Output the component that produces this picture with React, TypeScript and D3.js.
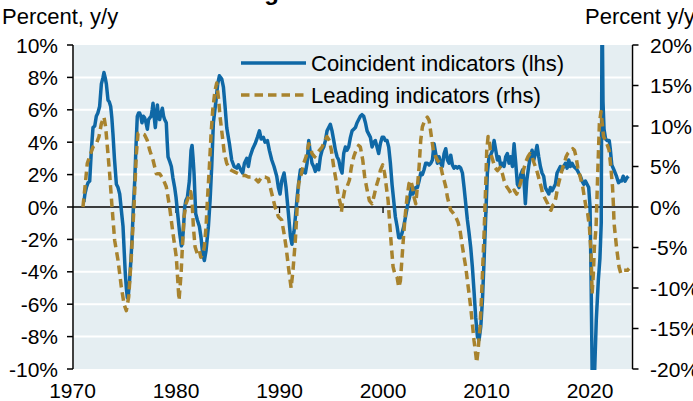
import React from "react";
import * as d3 from "d3";

// Coincident indicators (lhs), y/y %
const coincidentYears = [
  1971.1, 1971.2, 1971.34, 1971.5, 1971.66, 1971.82, 1971.98, 1972.15, 1972.3, 1972.45, 1972.62, 1972.79, 1972.95,
  1973.04, 1973.15, 1973.27, 1973.43, 1973.55, 1973.69, 1973.8, 1973.91, 1974.05, 1974.24, 1974.4, 1974.56, 1974.72,
  1974.88, 1975.0, 1975.1, 1975.2, 1975.3, 1975.4, 1975.52, 1975.65, 1975.75, 1975.88, 1976.01, 1976.15, 1976.26,
  1976.38, 1976.49, 1976.6, 1976.71, 1976.85, 1976.97, 1977.1, 1977.23, 1977.35, 1977.46, 1977.6, 1977.7, 1977.78,
  1977.9, 1978.0, 1978.1, 1978.2, 1978.3, 1978.42, 1978.55, 1978.68, 1978.8, 1978.9, 1979.06, 1979.15, 1979.23,
  1979.4, 1979.55, 1979.7, 1979.87, 1980.0, 1980.19, 1980.35, 1980.52, 1980.6, 1980.71, 1980.84, 1980.95, 1981.1,
  1981.29, 1981.45, 1981.55, 1981.65, 1981.74, 1981.9, 1982.06, 1982.26, 1982.42, 1982.58, 1982.74, 1982.9, 1983.13,
  1983.29, 1983.45, 1983.61, 1983.87, 1984.03, 1984.19, 1984.3, 1984.42, 1984.58, 1984.74, 1984.9, 1985.16, 1985.38,
  1985.61, 1985.87, 1986.03, 1986.25, 1986.44, 1986.61, 1986.83, 1986.99, 1987.15, 1987.41, 1987.64, 1987.86, 1988.06,
  1988.22, 1988.44, 1988.6, 1988.83, 1989.02, 1989.25, 1989.47, 1989.73, 1989.89, 1990.05, 1990.21, 1990.44, 1990.63,
  1990.86, 1991.05, 1991.2, 1991.4, 1991.55, 1991.7, 1991.85, 1992.02, 1992.18, 1992.34, 1992.5, 1992.66, 1992.82,
  1992.98, 1993.14, 1993.3, 1993.46, 1993.63, 1993.79, 1993.95, 1994.11, 1994.27, 1994.43, 1994.59, 1994.75, 1994.91,
  1995.07, 1995.24, 1995.4, 1995.56, 1995.72, 1995.88, 1996.04, 1996.2, 1996.36, 1996.52, 1996.68, 1996.85, 1997.01,
  1997.17, 1997.33, 1997.49, 1997.65, 1997.81, 1997.97, 1998.13, 1998.3, 1998.46, 1998.62, 1998.78, 1998.94, 1999.1,
  1999.26, 1999.42, 1999.58, 1999.74, 1999.91, 2000.07, 2000.23, 2000.39, 2000.55, 2000.71, 2000.87, 2001.03, 2001.19,
  2001.36, 2001.52, 2001.68, 2001.84, 2002.0, 2002.2, 2002.4, 2002.6, 2002.75, 2002.88, 2003.0, 2003.16, 2003.32,
  2003.48, 2003.64, 2003.8, 2003.96, 2004.12, 2004.28, 2004.45, 2004.61, 2004.77, 2004.93, 2005.09, 2005.25, 2005.41,
  2005.57, 2005.73, 2005.9, 2006.06, 2006.22, 2006.38, 2006.54, 2006.7, 2006.86, 2007.02, 2007.18, 2007.34, 2007.5,
  2007.67, 2007.83, 2007.99, 2008.15, 2008.31, 2008.47, 2008.63, 2008.79, 2008.95, 2009.12, 2009.28, 2009.44, 2009.6,
  2009.76, 2009.92, 2010.08, 2010.24, 2010.4, 2010.57, 2010.73, 2010.89, 2011.05, 2011.21, 2011.37, 2011.53, 2011.69,
  2011.85, 2012.01, 2012.17, 2012.33, 2012.5, 2012.66, 2012.82, 2012.98, 2013.14, 2013.3, 2013.49, 2013.62, 2013.75,
  2013.88, 2014.07, 2014.23, 2014.4, 2014.56, 2014.72, 2014.88, 2015.04, 2015.2, 2015.36, 2015.52, 2015.68, 2015.85,
  2016.01, 2016.17, 2016.33, 2016.49, 2016.65, 2016.81, 2016.97, 2017.13, 2017.3, 2017.46, 2017.62, 2017.78, 2017.94,
  2018.1, 2018.26, 2018.42, 2018.58, 2018.74, 2018.9, 2019.07, 2019.23, 2019.39, 2019.55, 2019.71, 2019.87, 2020.0,
  2020.1, 2020.25, 2020.4, 2020.6, 2020.8, 2020.95, 2021.08, 2021.16, 2021.25, 2021.35, 2021.5, 2021.65, 2021.85,
  2021.95, 2022.1, 2022.3, 2022.55, 2022.75, 2022.9, 2023.05, 2023.2, 2023.38, 2023.55, 2023.7,
];
const coincidentValues = [
  0.3, 0.8, 1.2, 1.5, 1.6, 3.5, 4.9, 5.0, 5.6, 5.8, 6.2, 7.6, 8.0,
  8.3, 8.0, 7.6, 6.6, 6.5, 6.2, 5.5, 4.5, 3.0, 1.4, 1.2, 0.8, -0.2,
  -1.2, -2.8, -4.1, -5.0, -5.6, -5.4, -4.5, -3.2, -2.0, 0.0, 1.6, 4.0, 5.6,
  5.8, 5.8, 5.6, 5.2, 5.6, 5.5, 5.2, 4.8, 5.4, 5.5, 5.6, 6.0, 6.4,
  5.5, 4.9, 5.6, 6.3, 5.6, 5.4, 5.8, 6.1, 5.6, 5.4, 5.2, 4.0, 3.1,
  2.8, 2.5, 1.8, 1.2, 0.6, -0.6, -1.6, -2.4, -2.3, -1.4, 0.0, 0.4, 0.6,
  1.6, 3.5, 3.8, 3.0, 2.1, -0.4, -0.8, -1.2, -1.9, -2.9, -3.3, -2.7, -1.2,
  0.4, 2.5, 5.2, 6.6, 7.6, 8.1, 8.0, 7.9, 7.4, 6.2, 4.9, 3.9, 2.9,
  2.5, 2.4, 2.6, 2.3, 2.1, 2.7, 3.0, 2.5, 3.1, 3.6, 3.9, 4.3, 4.7,
  4.2, 4.3, 4.0, 4.1, 3.5, 2.9, 2.5, 1.9, 1.2, 0.8, 1.6, 2.1, 1.2,
  -0.4, -1.8, -2.3, -1.5, -0.5, 0.6, 1.5, 2.3, 2.1, 2.3, 2.1, 2.7, 4.1,
  3.3, 2.7, 2.5, 2.2, 2.6, 2.3, 3.1, 3.5, 3.7, 4.1, 4.7, 4.9, 5.1,
  4.7, 4.1, 3.5, 3.1, 2.9, 2.4, 2.1, 3.3, 3.7, 3.5, 3.7, 4.3, 4.7,
  4.8, 4.9, 5.2, 5.4, 5.6, 5.7, 5.6, 5.2, 4.7, 4.5, 4.3, 3.7, 4.0,
  4.1, 3.7, 3.3, 3.9, 4.3, 4.3, 4.1, 4.1, 3.7, 2.7, 1.4, 0.4, -0.6,
  -1.2, -1.9, -1.9, -1.6, -1.2, -0.5, 0.2, 0.7, 1.2, 0.8, 1.0, 1.2, 1.2,
  1.6, 2.1, 2.0, 2.3, 2.7, 2.7, 2.6, 2.7, 2.9, 3.9, 3.3, 2.7, 3.1,
  2.7, 2.5, 3.3, 3.6, 2.9, 2.7, 3.2, 2.6, 2.4, 2.5, 2.4, 2.5, 2.4,
  2.1, 1.2, 0.2, -0.8, -1.6, -2.5, -3.7, -5.2, -6.8, -8.0, -8.2, -7.4, -5.8,
  -3.3, -0.6, 2.1, 3.1, 3.2, 3.5, 4.1, 3.5, 2.9, 3.1, 2.5, 2.7, 2.5,
  3.1, 3.3, 2.7, 3.1, 2.5, 3.9, 2.7, 1.4, 1.2, 2.0, 2.3, 1.6, 0.2,
  1.6, 2.5, 3.1, 3.5, 2.9, 3.3, 3.8, 3.1, 2.5, 2.1, 1.9, 1.2, 1.0,
  0.8, 1.2, 1.0, 1.2, 1.4, 2.1, 2.3, 2.5, 2.3, 2.5, 2.7, 2.4, 2.9,
  2.5, 2.7, 2.5, 2.4, 2.3, 2.1, 1.9, 1.6, 1.4, 1.6, 1.4, 1.2, 0.0,
  -4.5, -13.0, -11.0, -7.0, -4.5, -3.2, -1.0, 13.0, 6.5, 4.8, 4.2, 4.1, 4.1,
  3.6, 2.6, 2.3, 1.9, 1.5, 1.6, 1.6, 1.9, 1.6, 1.8, 1.9,
];

// Leading indicators (rhs), y/y %
const leadingYears = [
  1971.01, 1971.24, 1971.43, 1971.76, 1971.98, 1972.3, 1972.56, 1972.79, 1973.04, 1973.2, 1973.37, 1973.59, 1973.82,
  1974.07, 1974.4, 1974.72, 1974.98, 1975.2, 1975.43, 1975.68, 1975.94, 1976.17, 1976.33, 1976.65, 1976.97, 1977.23,
  1977.46, 1977.78, 1978.1, 1978.42, 1978.74, 1979.06, 1979.38, 1979.71, 1980.03, 1980.29, 1980.49, 1980.65, 1980.78,
  1980.97, 1981.2, 1981.42, 1981.55, 1981.68, 1981.84, 1982.06, 1982.26, 1982.39, 1982.58, 1982.74, 1982.9, 1983.03,
  1983.22, 1983.39, 1983.55, 1983.77, 1983.93, 1984.09, 1984.26, 1984.48, 1984.67, 1984.9, 1985.16, 1985.38, 1985.7,
  1986.03, 1986.35, 1986.67, 1986.99, 1987.31, 1987.64, 1987.96, 1988.28, 1988.6, 1988.92, 1989.09, 1989.34, 1989.57,
  1989.89, 1990.21, 1990.44, 1990.63, 1990.86, 1991.12, 1991.3, 1991.53, 1991.69, 1991.85, 1992.11, 1992.34, 1992.56,
  1992.82, 1992.98, 1993.14, 1993.4, 1993.63, 1993.85, 1994.11, 1994.37, 1994.59, 1994.82, 1995.01, 1995.24, 1995.46,
  1995.65, 1995.88, 1995.98, 1996.11, 1996.3, 1996.52, 1996.75, 1996.94, 1997.17, 1997.39, 1997.65, 1997.81, 1998.04,
  1998.23, 1998.46, 1998.68, 1998.94, 1999.1, 1999.33, 1999.52, 1999.74, 1999.97, 2000.16, 2000.32, 2000.49, 2000.65,
  2000.81, 2000.97, 2001.13, 2001.36, 2001.52, 2001.68, 2001.84, 2002.0, 2002.16, 2002.32, 2002.51, 2002.67, 2002.84,
  2003.0, 2003.16, 2003.32, 2003.48, 2003.64, 2003.8, 2004.03, 2004.28, 2004.45, 2004.67, 2004.86, 2005.09, 2005.25,
  2005.51, 2005.73, 2005.9, 2006.06, 2006.22, 2006.38, 2006.54, 2006.8, 2007.02, 2007.25, 2007.44, 2007.67, 2007.83,
  2007.99, 2008.15, 2008.31, 2008.47, 2008.63, 2008.79, 2008.95, 2009.05, 2009.18, 2009.37, 2009.5, 2009.63, 2009.76,
  2009.89, 2010.02, 2010.15, 2010.27, 2010.4, 2010.6, 2010.79, 2011.05, 2011.31, 2011.53, 2011.69, 2011.95, 2012.17,
  2012.4, 2012.66, 2012.91, 2013.14, 2013.35, 2013.55, 2013.8, 2014.0, 2014.2, 2014.4, 2014.6, 2014.8, 2014.94,
  2015.1, 2015.27, 2015.43, 2015.59, 2015.75, 2015.91, 2016.07, 2016.23, 2016.39, 2016.55, 2016.71, 2016.88, 2017.04,
  2017.2, 2017.36, 2017.52, 2017.68, 2017.84, 2018.0, 2018.16, 2018.33, 2018.49, 2018.65, 2018.81, 2018.97, 2019.13,
  2019.29, 2019.45, 2019.61, 2019.77, 2019.94, 2020.1, 2020.2, 2020.32, 2020.42, 2020.58, 2020.74, 2020.9, 2021.06,
  2021.3, 2021.52, 2021.84, 2022.0, 2022.17, 2022.26, 2022.32, 2022.55, 2022.8, 2022.97, 2023.29, 2023.62, 2023.77,
];
const leadingValues = [
  0.0, 2.9, 5.4, 6.6, 7.4, 7.8, 8.7, 10.3, 11.1, 9.9, 7.4, 4.1, 0.0,
  -4.1, -6.6, -9.9, -12.0, -12.8, -11.1, -6.2, 0.0, 6.6, 9.1, 9.1, 8.9, 8.2,
  7.0, 5.8, 4.1, 4.1, 3.5, 2.5, 0.0, -3.3, -6.2, -11.5, -8.2, -4.1, -1.2,
  0.4, 1.2, 1.9, 0.8, -2.5, -4.9, -5.8, -5.4, -6.2, -5.8, -4.9, -2.5, 0.8,
  4.9, 9.1, 12.0, 14.4, 15.3, 13.6, 11.1, 8.7, 6.6, 5.4, 4.7, 4.5, 4.3,
  4.1, 3.9, 3.9, 3.7, 3.7, 3.5, 3.1, 3.7, 3.7, 3.5, 2.5, 1.2, 0.0,
  -1.2, -1.6, -3.3, -4.9, -7.4, -10.0, -7.8, -4.1, -0.4, 2.9, 4.1, 5.4, 6.2,
  7.8, 7.4, 6.6, 6.2, 6.6, 7.0, 7.4, 8.2, 8.7, 8.2, 7.0, 4.9, 3.3,
  1.6, 0.4, -0.6, 0.8, 2.1, 2.5, 3.3, 4.9, 6.2, 7.0, 7.6, 7.4, 5.8,
  3.7, 2.1, 0.8, 0.4, 1.2, 2.5, 3.3, 4.5, 5.2, 4.1, 2.5, 0.8, -2.1,
  -4.9, -7.4, -8.2, -8.7, -9.9, -9.1, -6.2, -3.3, -0.8, 1.2, 2.9, 3.3, 2.5,
  1.2, 0.4, 2.5, 4.9, 8.2, 9.9, 10.7, 11.1, 10.7, 8.7, 7.0, 6.2, 5.8,
  5.4, 4.1, 3.3, 2.5, 1.2, 0.4, -0.4, -0.8, -1.2, -1.9, -2.9, -4.9, -6.2,
  -7.4, -9.1, -10.7, -12.4, -14.4, -16.5, -18.1, -19.2, -17.7, -14.8, -11.5, -7.4, -3.3,
  1.6, 7.0, 8.7, 8.2, 6.6, 5.8, 4.9, 4.5, 4.9, 4.1, 3.3, 2.5, 2.1,
  1.6, 2.1, 1.6, 2.3, 3.3, 4.5, 5.6, 6.2, 6.6, 6.2, 5.4, 4.7, 4.1,
  3.3, 2.5, 1.6, 1.2, 0.8, 0.4, -0.2, -0.4, 0.2, 0.4, 1.2, 2.5, 3.3,
  4.1, 4.9, 5.4, 6.2, 6.6, 6.8, 7.0, 7.2, 7.0, 6.2, 4.9, 4.1, 3.3,
  2.5, 1.2, 0.0, -0.8, -2.5, -5.8, -10.7, -8.2, -4.9, -2.5, 4.1, 10.3, 11.8,
  8.7, 8.2, 7.0, 5.0, 2.5, 0.1, -2.0, -4.9, -7.4, -8.2, -7.8, -7.8, -7.6,
];

const leftTicks = [-10, -8, -6, -4, -2, 0, 2, 4, 6, 8, 10];
const rightTicks = [-20, -15, -10, -5, 0, 5, 10, 15, 20];
const yearTicks = [1970, 1980, 1990, 2000, 2010, 2020];
const seriesNames = ["Coincident indicators (lhs)", "Leading indicators (rhs)"];

const W = 693;
const H = 401;
const FONT = "'Liberation Sans', Arial, Helvetica, sans-serif";
const BLUE = "#0f68a6";
const GOLD = "#a8832e";
const BG = "#e5eef2";

export default function App() {
  const left = 73;
  const right = 632.5;
  const top = 45;
  const bottom = 369;

  const x = d3.scaleLinear().domain([1970, 2024.1]).range([72.5, 632.5]);
  const yL = d3.scaleLinear().domain([-10, 10]).range([bottom, top]);
  const yR = d3.scaleLinear().domain([-20, 20]).range([bottom, top]);

  const coincident = coincidentYears.map((t, i) => [t, coincidentValues[i]] as [number, number]);
  const leading = leadingYears.map((t, i) => [t, leadingValues[i]] as [number, number]);

  const lineL = d3.line<[number, number]>().x((d) => x(d[0])).y((d) => yL(d[1]));
  const lineR = d3.line<[number, number]>().x((d) => x(d[0])).y((d) => yR(d[1]));

  return (
    <div style={{ position: "fixed", left: 0, top: 0 }}>
      <svg width={W} height={H} style={{ display: "block" }} fontFamily={FONT}>
        <rect x={0} y={0} width={W} height={H} fill="#ffffff" />
        <defs>
          <clipPath id="plotClip">
            <rect x={left} y={top} width={right - left} height={bottom - top + 1} />
          </clipPath>
        </defs>
        {/* title fragment at top (cut off) */}
        <text x={15} y={-0.5} fontSize={24} fontWeight="bold" fill="#000">
          Coincident and leading indicators
        </text>
        <rect x={left + 1} y={top} width={right - left - 2.5} height={bottom - top} fill={BG} />
        {leftTicks
          .filter((v) => v !== 0 && v !== 10 && v !== -10)
          .map((v) => (
            <line key={"g" + v} x1={left + 1} x2={right - 1.5} y1={yL(v)} y2={yL(v)} stroke="#ffffff" strokeWidth={2} />
          ))}
        {/* zero line */}
        <line x1={left} x2={right} y1={yL(0)} y2={yL(0)} stroke="#000" strokeWidth={1.5} />
        {yearTicks.slice(1).map((t) => (
          <line key={"xt" + t} x1={x(t)} x2={x(t)} y1={yL(0)} y2={yL(0) + 6} stroke="#000" strokeWidth={1.3} />
        ))}
        <g clipPath="url(#plotClip)">
          <path d={lineL(coincident) || ""} fill="none" stroke={BLUE} strokeWidth={3.5} strokeLinejoin="round" />
          <path
            d={lineR(leading) || ""}
            fill="none"
            stroke={GOLD}
            strokeWidth={3.5}
            strokeDasharray="8.5,5"
            strokeLinejoin="round"
          />
        </g>
        {/* left axis */}
        <line x1={left} x2={left} y1={top} y2={bottom} stroke="#000" strokeWidth={1.5} />
        {leftTicks.map((v) => (
          <g key={"lt" + v}>
            <line x1={left - 6} x2={left} y1={yL(v)} y2={yL(v)} stroke="#000" strokeWidth={1.5} />
            <text x={58} y={yL(v)} dy="0.36em" textAnchor="end" fontSize={21} fill="#000">
              {v + "%"}
            </text>
          </g>
        ))}
        {/* right axis */}
        <line x1={right} x2={right} y1={top} y2={bottom} stroke="#000" strokeWidth={1.5} />
        {rightTicks.map((v) => (
          <g key={"rt" + v}>
            <line x1={right} x2={right + 6} y1={yR(v)} y2={yR(v)} stroke="#000" strokeWidth={1.5} />
            <text x={650} y={yR(v)} dy="0.36em" textAnchor="start" fontSize={21} fill="#000">
              {v + "%"}
            </text>
          </g>
        ))}
        {yearTicks.map((t) => (
          <text key={"xl" + t} x={x(t)} y={398} textAnchor="middle" fontSize={21} fill="#000">
            {t}
          </text>
        ))}
        <text x={2} y={24} fontSize={22} fill="#000">
          Percent, y/y
        </text>
        <text x={585} y={24} fontSize={22} fill="#000">
          Percent y/y
        </text>
        {/* legend */}
        <line x1={241} x2={306} y1={63} y2={63} stroke={BLUE} strokeWidth={3.5} />
        <text x={311} y={71} fontSize={22} fill="#000">
          {seriesNames[0]}
        </text>
        <line x1={241} x2={306} y1={95} y2={95} stroke={GOLD} strokeWidth={3.5} strokeDasharray="8.5,5" />
        <text x={311} y={103} fontSize={22} fill="#000">
          {seriesNames[1]}
        </text>
      </svg>
    </div>
  );
}
